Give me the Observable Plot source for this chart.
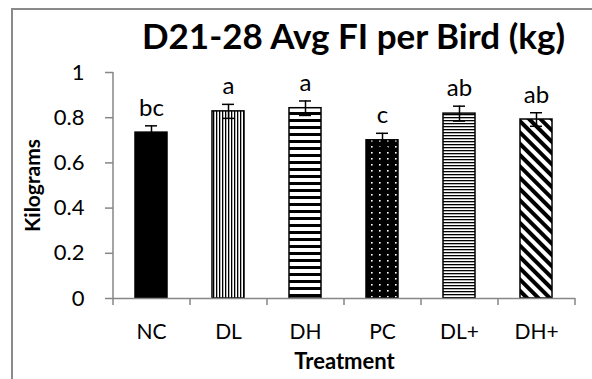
<!DOCTYPE html>
<html>
<head>
<meta charset="utf-8">
<script src="https://cdn.jsdelivr.net/npm/d3@7"></script>
<script src="https://cdn.jsdelivr.net/npm/@observablehq/plot@0.6"></script>
<style>
  body { margin: 0; background: #fff; }
  #wrap { position: relative; width: 592px; height: 379px; overflow: hidden; background: #fff; }
  #border { position: absolute; left: 11px; top: 8px; width: 800px; height: 600px;
            border-left: 2px solid #8a8a8a; border-top: 2px solid #8a8a8a; }
  #chart { position: absolute; left: 0; top: 0; }
</style>
</head>
<body>
<div id="wrap"><div id="border"></div><div id="chart"></div></div>
<script>
// ---- data ----
const treatments = ["NC", "DL", "DH", "PC", "DL+", "DH+"];
const means      = [0.734, 0.828, 0.842, 0.700, 0.818, 0.792];
const errors     = [0.030, 0.031, 0.032, 0.031, 0.033, 0.030];
const letters    = ["bc", "a", "a", "c", "ab", "ab"];
const yTicks     = [0, 0.2, 0.4, 0.6, 0.8, 1];
const title      = "D21-28 Avg FI per Bird (kg)";
const xTitle     = "Treatment";
const yTitle     = "Kilograms";

// ---- styles (pattern fill per bar) ----
const fills = ["#000", "url(#p-dl)", "url(#p-dh)", "url(#p-pc)", "url(#p-dlp)", "url(#p-dhp)"];

const rows = treatments.map((t, i) => ({t, v: means[i], e: errors[i], l: letters[i], f: fills[i]}));

const W = 592, H = 379, mL = 113, mR = 17, mT = 72, mB = 81;
const step = (W - mL - mR) / treatments.length;
const axisColor = "#868686";

const chart = Plot.plot({
  width: W, height: H,
  marginLeft: mL, marginRight: mR, marginTop: mT, marginBottom: mB,
  style: {fontFamily: "Lato, sans-serif", fontSize: "21px", color: "#000", background: "transparent", overflow: "visible"},
  x: {domain: treatments, paddingInner: 0.584, paddingOuter: 0.292, label: null},
  y: {domain: [0, 1], label: null},
  color: {type: "identity"},
  marks: [
    Plot.barY(rows, {x: "t", y: "v", fill: "f", stroke: "#000", strokeWidth: 1.5}),
    Plot.ruleY([0], {stroke: axisColor, strokeWidth: 1.5}),
    Plot.ruleX([treatments[0]], {dx: -step / 2, y1: 0, y2: 1, stroke: axisColor, strokeWidth: 1.5}),
    Plot.axisY({ticks: yTicks, tickSize: 8, tickPadding: 21, stroke: axisColor, strokeWidth: 1.5,
                tickFormat: d => String(d), label: null, fontSize: 22}),
    Plot.axisX({tickSize: 7, dx: -step / 2, tickFormat: () => "", stroke: axisColor, strokeWidth: 1.5, label: null}),
    Plot.axisX({ticks: [treatments[treatments.length - 1]], tickSize: 7, dx: step / 2, tickFormat: () => "",
                stroke: axisColor, strokeWidth: 1.5, label: null}),
    Plot.axisX({tickSize: 0, tickPadding: 26, fontSize: 21, label: null}),
    Plot.ruleX(rows, {x: "t", y1: d => d.v - d.e, y2: d => d.v + d.e, stroke: "#000", strokeWidth: 1.5}),
    Plot.tickY(rows, {x: "t", y: d => d.v + d.e, insetLeft: 10, insetRight: 10, stroke: "#000", strokeWidth: 1.5}),
    Plot.tickY(rows, {x: "t", y: d => d.v - d.e, insetLeft: 10, insetRight: 10, stroke: "#000", strokeWidth: 1.5}),
    Plot.text(rows, {x: "t", y: d => d.v + d.e, text: "l", lineAnchor: "bottom", dy: -10, fontSize: 24}),
    Plot.text([title], {text: d => d, frameAnchor: "top", textAnchor: "middle", lineAnchor: "middle",
                        dx: 9, dy: -35, fontSize: 35, fontWeight: "bold"}),
    Plot.text([yTitle], {text: d => d, frameAnchor: "left", textAnchor: "middle", lineAnchor: "middle",
                         rotate: -90, dx: -80, fontSize: 21, fontWeight: "bold"}),
    Plot.text([xTitle], {text: d => d, frameAnchor: "bottom", textAnchor: "middle", lineAnchor: "middle",
                         dy: 63, fontSize: 22, fontWeight: "bold"})
  ]
});

d3.select(chart).insert("defs", ":first-child").html(`
  <pattern id="p-dl" patternUnits="userSpaceOnUse" width="3" height="4">
    <rect width="3" height="4" fill="#fff"/><rect width="1.3" height="4" fill="#000"/></pattern>
  <pattern id="p-dh" patternUnits="userSpaceOnUse" width="4" height="7">
    <rect width="4" height="7" fill="#fff"/><rect width="4" height="3" fill="#000"/></pattern>
  <pattern id="p-pc" patternUnits="userSpaceOnUse" width="8" height="6">
    <rect width="8" height="6" fill="#000"/><rect x="3" y="2" width="1.6" height="1.6" fill="#fff"/></pattern>
  <pattern id="p-dlp" patternUnits="userSpaceOnUse" width="4" height="3">
    <rect width="4" height="3" fill="#fff"/><rect width="4" height="1.3" fill="#000"/></pattern>
  <pattern id="p-dhp" patternUnits="userSpaceOnUse" width="8" height="8" patternTransform="rotate(-45)">
    <rect width="8" height="8" fill="#fff"/><rect width="4" height="8" fill="#000"/></pattern>
`);

document.getElementById("chart").appendChild(chart);
</script>
</body>
</html>
